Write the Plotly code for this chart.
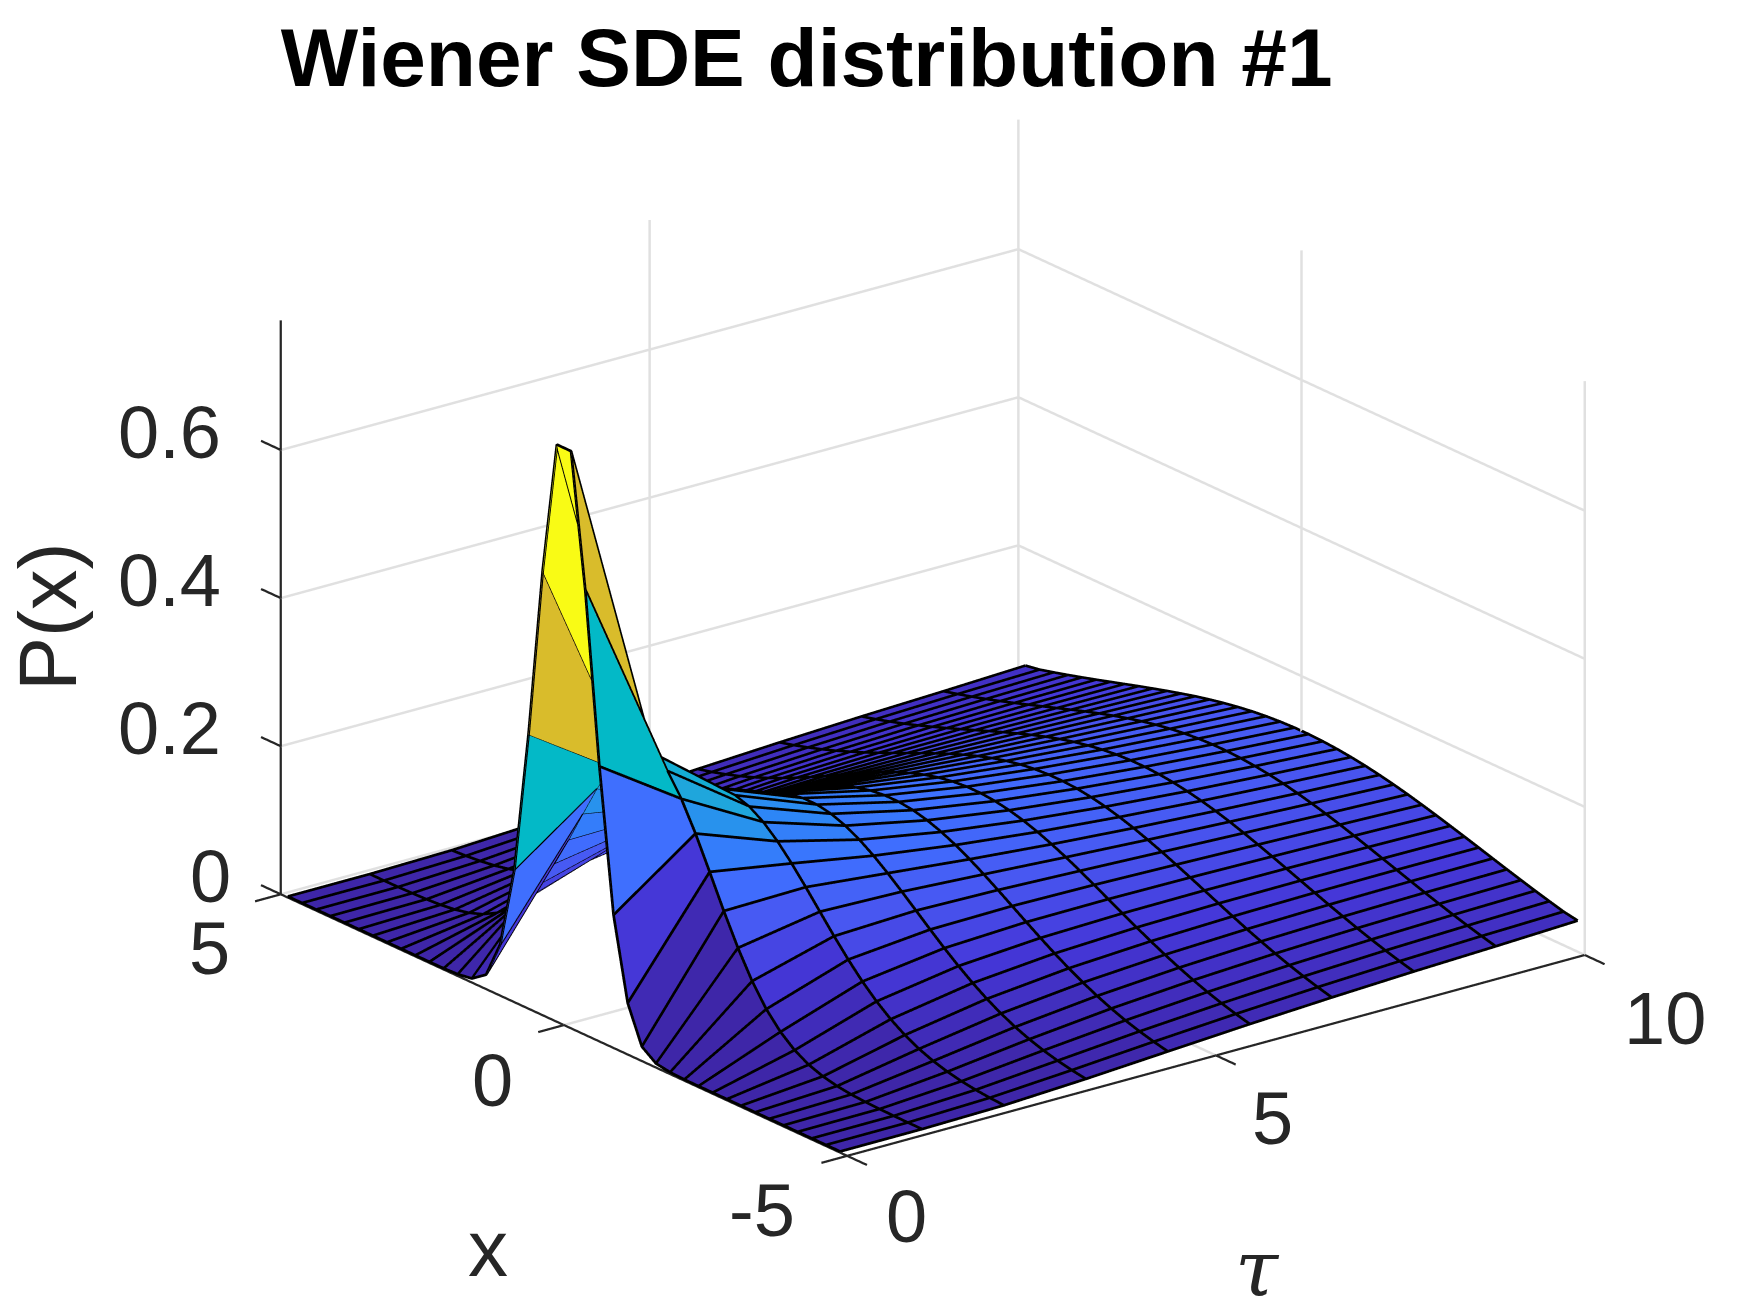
import math
import plotly.graph_objects as go

# Grid: 40 columns in x (bin centres), 10 rows in tau
x_vals = [-4.875,-4.625,-4.375,-4.125,-3.875,-3.625,-3.375,-3.125,-2.875,-2.625,-2.375,-2.125,-1.875,-1.625,-1.375,-1.125,-0.875,-0.625,-0.375,-0.125,
          0.125,0.375,0.625,0.875,1.125,1.375,1.625,1.875,2.125,2.375,2.625,2.875,3.125,3.375,3.625,3.875,4.125,4.375,4.625,4.875]
tau_vals = [0,1.111,2.222,3.333,4.444,5.556,6.667,7.778,8.889,10]

# One side of the ridge for each tau row, centre outwards (the surface is mirrored about x=0)
p_t0 = [.778,.60,.37,.178,.068,.018,.004,.001,0,0,0,0,0,0,0,0,0,0,0,0]
p_t1 = [.340,.325,.296,.258,.215,.171,.130,.094,.065,.0431,.0272,.0164,.0095,.0052,.0027,.0014,.0007,.0003,.0001,.0001]
p_t2 = [.253,.2466,.2344,.2173,.1963,.1731,.1488,.1246,.1018,.0810,.0630,.0477,.0352,.0253,.0178,.0122,.0081,.0053,.0034,.0021]
p_t3 = [.2102,.2066,.1995,.1894,.1766,.1618,.1457,.1290,.1122,.0959,.0806,.0665,.0539,.0430,.0336,.0259,.0196,.0146,.0106,.0076]
p_t4 = [.1838,.1814,.1766,.1697,.1609,.1505,.1390,.1266,.1138,.1010,.0884,.0763,.0651,.0547,.0454,.0372,.0300,.0240,.0189,.0146]
p_t5 = [.1653,.1635,.1600,.1549,.1484,.1406,.1319,.1223,.1122,.1018,.0914,.0812,.0714,.0621,.0534,.0454,.0382,.0318,.0262,.0214]
p_t6 = [.1515,.1502,.1475,.1435,.1384,.1323,.1253,.1177,.1094,.1009,.0922,.0835,.0749,.0665,.0587,.0512,.0443,.0380,.0323,.0272]
p_t7 = [.1407,.1396,.1374,.1342,.1301,.1252,.1195,.1131,.1063,.0991,.0917,.0842,.0767,.0693,.0622,.0553,.0488,.0428,.0372,.0321]
p_t8 = [.1319,.1310,.1292,.1266,.1232,.1190,.1142,.1089,.1031,.0970,.0905,.0839,.0774,.0708,.0643,.0580,.0520,.0463,.0410,.0360]
p_t9 = [.1245,.1237,.1222,.1200,.1171,.1136,.1095,.1050,.0999,.0946,.0890,.0833,.0774,.0715,.0656,.0599,.0543,.0490,.0439,.0405]
half_rows = [p_t0,p_t1,p_t2,p_t3,p_t4,p_t5,p_t6,p_t7,p_t8,p_t9]

x_ticks = [-5, 0, 5]
tau_ticks = [0, 5, 10]
p_ticks = [0, 0.2, 0.4, 0.6]
p_top = 0.775
p_room = 0.80
tick_len = 0.35

colour_stops = [0, .09, .16, .23, .30, .38, .48, .60, .70, .775, .87, 1]
colour_hex = ["#3E26A8","#4538D9","#4858F2","#3E70FF","#2D86F6","#1FA6DC","#02BAC6","#37C897","#ABC739","#DCBB2A","#F9C62E","#F9FB15"]

Z = [r[::-1] + r for r in half_rows]
nx, nt = len(x_vals), len(tau_vals)

vx, vy, vz = [], [], []
for t, row in zip(tau_vals, Z):
    for x, p in zip(x_vals, row):
        vx.append(t); vy.append(x); vz.append(p)

I, J, K, cell = [], [], [], []
for a in range(nt - 1):
    for b in range(nx - 1):
        p00 = a * nx + b
        p01 = p00 + 1
        p10 = p00 + nx
        p11 = p10 + 1
        I += [p00, p00]; J += [p01, p11]; K += [p11, p10]
        cell += [Z[a][b], Z[a][b]]

fig = go.Figure()


def lines(segments, color, width):
    """Draw a list of polylines given as lists of (tau, x, p)."""
    lx, ly, lz = [], [], []
    for seg in segments:
        for t, x, p in seg:
            lx.append(t); ly.append(x); lz.append(p)
        lx.append(None); ly.append(None); lz.append(None)
    fig.add_trace(go.Scatter3d(x=lx, y=ly, z=lz, mode="lines", line=dict(color=color, width=width),
                               hoverinfo="skip", showlegend=False))


t0, t1 = tau_ticks[0], tau_ticks[-1]
x0, x1 = x_ticks[0], x_ticks[-1]
# Grid on the two back walls and the floor (front edges belong to the dark axis lines)
grid = []
for v in p_ticks:
    grid.append([(t0, x1, v), (t1, x1, v), (t1, x0, v)])
for v in tau_ticks:
    if v != t0:
        grid.append([(v, x0, 0), (v, x1, 0), (v, x1, p_top)])
for v in x_ticks:
    if v != x0:
        grid.append([(t0, v, 0), (t1, v, 0), (t1, v, p_top)])
    else:
        grid.append([(t1, v, 0), (t1, v, p_top)])
lines(grid, "#E0E0E0", 5)

fig.add_trace(go.Mesh3d(
    x=vx, y=vy, z=vz, i=I, j=J, k=K, intensity=cell, intensitymode="cell",
    colorscale=[[s, c] for s, c in zip(colour_stops, colour_hex)], cmin=0, cmax=max(vz), showscale=False,
    flatshading=True, hoverinfo="skip",
    lighting=dict(ambient=1, diffuse=0, specular=0, fresnel=0, roughness=1),
))

# Black mesh lines
lift = 0.0015
mesh = [[(tau_vals[a], x_vals[b], Z[a][b] + lift) for b in range(nx)] for a in range(nt)]
mesh += [[(tau_vals[a], x_vals[b], Z[a][b] + lift) for a in range(nt)] for b in range(nx)]
lines(mesh, "#000000", 5.5)

# Axis lines and tick marks
ink = "#262626"
ax_lines = [[(t0, x1, 0), (t0, x1, p_top)], [(t0, x0, 0), (t0, x1, 0)], [(t0, x0, 0), (t1, x0, 0)]]
ax_lines += [[(t0, x1, v), (t0, x1 + tick_len, v)] for v in p_ticks]
ax_lines += [[(t0, v, 0), (t0 - tick_len, v, 0)] for v in x_ticks]
ax_lines += [[(v, x0, 0), (v, x0 - tick_len, 0)] for v in tau_ticks]
lines(ax_lines, ink, 4.5)

tick_font = dict(family="Liberation Sans", size=74, color=ink)
ann = []
for v, dx in zip(p_ticks, [-48, -58, -58, -58]):
    ann.append(dict(x=t0, y=x1, z=v, text=f"{v:g}", showarrow=False, xanchor="right", yanchor="middle",
                    xshift=dx, yshift=18, font=tick_font))
for v, dx, dy in zip(x_ticks, [-85, -71, -71], [-55, -55, -54]):
    ann.append(dict(x=t0, y=v, z=0, text=str(v), showarrow=False, xanchor="center", yanchor="middle",
                    xshift=dx, yshift=dy, font=tick_font))
for v, dx, dy in zip(tau_ticks, [59, 57, 80], [-61, -63, -63]):
    ann.append(dict(x=v, y=x0, z=0, text=str(v), showarrow=False, xanchor="center", yanchor="middle",
                    xshift=dx, yshift=dy, font=tick_font))

axis = dict(showbackground=False, showspikes=False, showticklabels=False, title=dict(text=""), zeroline=False,
            showgrid=False, showline=False, ticks="")

beta = math.radians(52.48)
phi = math.radians(20.77)
R = 2.0
d = (-math.cos(beta) * math.cos(phi), -math.sin(beta) * math.cos(phi), math.sin(phi))
center = dict(x=-0.077, y=0.046, z=-0.0423)
eye = dict(x=center["x"] + R * d[0], y=center["y"] + R * d[1], z=center["z"] + R * d[2])

box = 1.434
pad_t = (t1 - t0 + 2 * tick_len) / (t1 - t0)
pad_x = (x1 - x0 + 2 * tick_len) / (x1 - x0)

fig.update_layout(
    margin=dict(l=0, r=0, t=0, b=0),
    paper_bgcolor="white",
    showlegend=False,
    title=dict(text="<b>Wiener SDE distribution #1</b>", x=806 / 1750, xanchor="center", y=1 - 50 / 1313, yanchor="middle",
               font=dict(family="Liberation Sans", size=82, color="#000000")),
    scene=dict(
        domain=dict(x=[0, 1], y=[0, 1]),
        aspectmode="manual", aspectratio=dict(x=box * pad_t, y=box * pad_x, z=box * 0.66 * p_room / p_top),
        camera=dict(projection=dict(type="orthographic"), eye=eye, center=center, up=dict(x=0, y=0, z=1)),
        xaxis=dict(axis, range=[t0 - tick_len, t1 + tick_len]),
        yaxis=dict(axis, range=[x0 - tick_len, x1 + tick_len]),
        zaxis=dict(axis, range=[0, p_room]),
        annotations=ann,
    ),
    annotations=[
        dict(xref="paper", yref="paper", x=484 / 1750, y=1 - 1256 / 1313, text="x", showarrow=False, xanchor="center", yanchor="middle",
             font=dict(family="Liberation Sans", size=80, color=ink)),
        dict(xref="paper", yref="paper", x=1261 / 1750, y=1 - 1277 / 1313, text="<i>τ</i>", showarrow=False, xanchor="center", yanchor="middle",
             font=dict(family="DejaVu Serif", size=78, color=ink)),
        dict(xref="paper", yref="paper", x=41 / 1750, y=1 - 617 / 1313, text="P(x)", textangle=-90, showarrow=False, xanchor="center", yanchor="middle",
             font=dict(family="Liberation Sans", size=81, color=ink)),
    ],
)
fig.write_html("out.html")
